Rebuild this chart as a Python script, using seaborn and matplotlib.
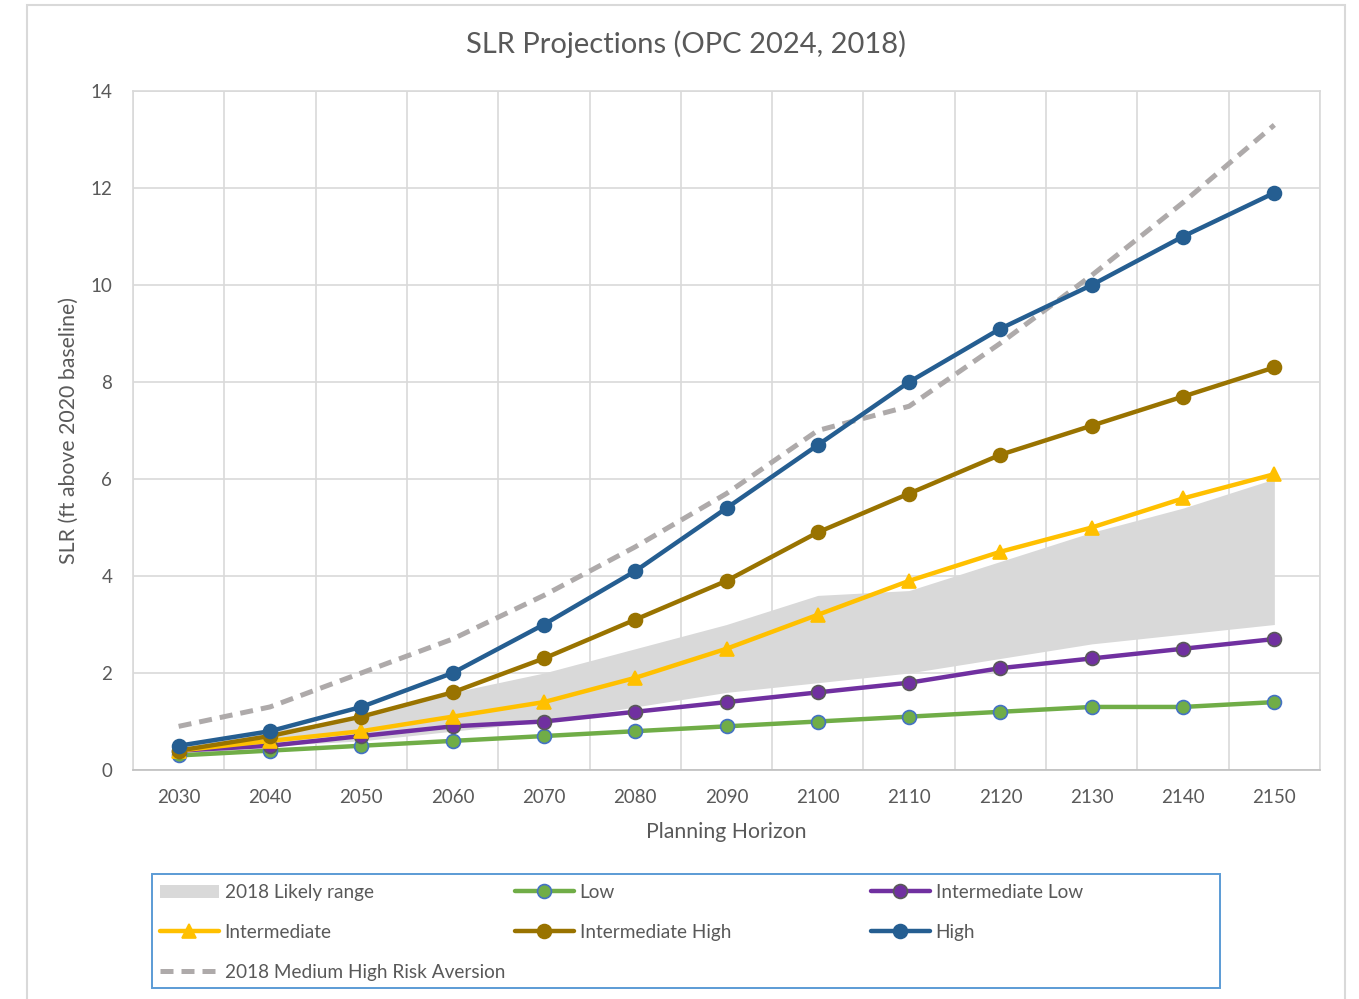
import numpy as np
import pandas as pd
import seaborn as sns
import matplotlib
matplotlib.use('Agg')
import matplotlib.pyplot as plt
from matplotlib.patches import Rectangle, Patch
from matplotlib.lines import Line2D

#%% data
years = [2030, 2040, 2050, 2060, 2070, 2080, 2090, 2100, 2110, 2120, 2130, 2140, 2150]

low = [0.3, 0.4, 0.5, 0.6, 0.7, 0.8, 0.9, 1.0, 1.1, 1.2, 1.3, 1.3, 1.4]
int_low = [0.4, 0.5, 0.7, 0.9, 1.0, 1.2, 1.4, 1.6, 1.8, 2.1, 2.3, 2.5, 2.7]
intermediate = [0.4, 0.6, 0.8, 1.1, 1.4, 1.9, 2.5, 3.2, 3.9, 4.5, 5.0, 5.6, 6.1]
int_high = [0.4, 0.7, 1.1, 1.6, 2.3, 3.1, 3.9, 4.9, 5.7, 6.5, 7.1, 7.7, 8.3]
high = [0.5, 0.8, 1.3, 2.0, 3.0, 4.1, 5.4, 6.7, 8.0, 9.1, 10.0, 11.0, 11.9]
mhra_2018 = [0.9, 1.3, 2.0, 2.7, 3.6, 4.6, 5.7, 7.0, 7.5, 8.8, 10.2, 11.7, 13.3]

range_lower = [0.3, 0.5, 0.6, 0.8, 1.0, 1.3, 1.6, 1.8, 2.0, 2.3, 2.6, 2.8, 3.0]
range_upper = [0.5, 0.8, 1.1, 1.6, 2.0, 2.5, 3.0, 3.6, 3.7, 4.3, 4.9, 5.4, 6.0]

y_ticks = [0, 2, 4, 6, 8, 10, 12, 14]

#%% style
sns.set_style("white")
plt.rcParams['font.family'] = ['Lato', 'DejaVu Sans']
txt = "#595959"
grid_c = "#D9D9D9"

fig = plt.figure(figsize=(13.59, 9.99), dpi=100)
ax = fig.add_axes([133/1359, 1-770/999, (1320-133)/1359, (770-91)/999])

ax.fill_between(years, range_lower, range_upper, color="#D9D9D9", lw=0, zorder=1)

sns.lineplot(x=years, y=mhra_2018, color="#AEAAAA", lw=3.6, ax=ax, zorder=2,
             dashes=False).lines[-1].set_dashes((2.6, 1.6))

series = [
    ("Low", low, "#70AD47", "o", "#4472C4"),
    ("Intermediate Low", int_low, "#7030A0", "o", "#595959"),
    ("Intermediate", intermediate, "#FFC000", "^", "#FFC000"),
    ("Intermediate High", int_high, "#997300", "o", "#997300"),
    ("High", high, "#255E91", "o", "#255E91"),
]
handles = {}
for name, vals, col, mk, ec in series:
    sns.lineplot(x=years, y=vals, color=col, lw=3.2, marker=mk, markersize=10,
                 markerfacecolor=col, markeredgecolor=ec, markeredgewidth=1.2,
                 ax=ax, zorder=3)
    handles[name] = Line2D([], [], color=col, lw=3.2, marker=mk, markersize=10,
                           markerfacecolor=col, markeredgecolor=ec, markeredgewidth=1.2)

handles["2018 Likely range"] = Patch(facecolor="#D9D9D9", edgecolor="none")
handles["2018 Medium High Risk Aversion"] = Line2D([], [], color="#AEAAAA", lw=3.6,
                                                   dashes=(2.6, 1.6))

#%% axes
ax.set_xlim(2025, 2155)
ax.set_ylim(0, 14)
ax.set_xticks(years)
ax.set_xticks(np.arange(2025, 2156, 10), minor=True)
ax.set_yticks(y_ticks)
ax.grid(axis="x", which="minor", color=grid_c, lw=1.2)
ax.grid(axis="y", which="major", color=grid_c, lw=1.2)
ax.tick_params(which="both", length=0, labelsize=13.5, labelcolor=txt)
ax.tick_params(axis="x", pad=14)
ax.tick_params(axis="y", pad=15)
for s in ax.spines.values():
    s.set_color(grid_c)
    s.set_linewidth(1.2)
ax.spines["bottom"].set_color("#BFBFBF")

ax.set_xlabel("Planning Horizon", fontsize=15.3, color=txt, labelpad=11)
ax.set_ylabel("SLR (ft above 2020 baseline)", fontsize=15.3, color=txt, labelpad=8)
fig.text(686/1359, 1 - 44/999, "SLR Projections (OPC 2024, 2018)",
         ha="center", va="center", fontsize=21, color=txt)

#%% chart border and legend
fig.patches.append(Rectangle((27/1359, -0.02), (1345-27)/1359, 1.02 - 5/999,
                             transform=fig.transFigure, fill=False,
                             edgecolor=grid_c, lw=1.5))
fig.patches.append(Rectangle((152/1359, 1-988/999), (1220-152)/1359, (988-874)/999,
                             transform=fig.transFigure, fill=False,
                             edgecolor="#5B9BD5", lw=1.4))

columns = [
    (160, ["2018 Likely range", "Intermediate", "2018 Medium High Risk Aversion"]),
    (515, ["Low", "Intermediate High"]),
    (871, ["Intermediate Low", "High"]),
]
for x0, names in columns:
    leg = fig.legend([handles[n] for n in names], names,
                     loc="upper left", bbox_to_anchor=(x0/1359, 1-884/999),
                     frameon=False, fontsize=13.7, labelcolor=txt,
                     handlelength=3.1, handletextpad=0.3, labelspacing=1.2,
                     borderpad=0, borderaxespad=0, numpoints=1)

fig.savefig("out.png", dpi=100)
